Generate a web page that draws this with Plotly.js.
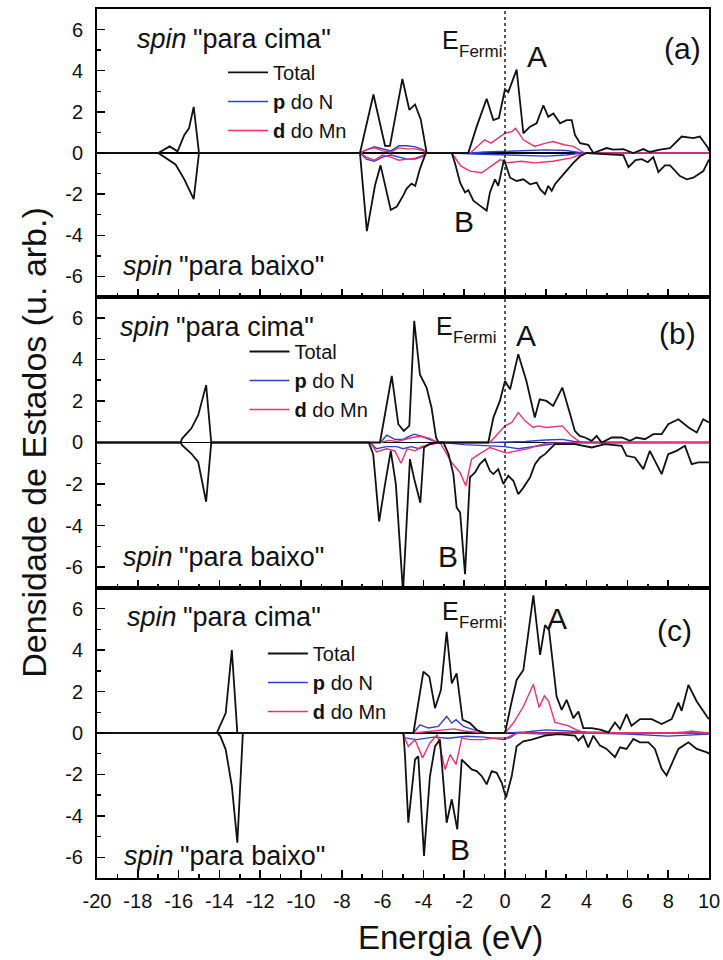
<!DOCTYPE html>
<html>
<head>
<meta charset="utf-8">
<script src="https://cdn.plot.ly/plotly-3.0.1.min.js"></script>
<style>html,body{margin:0;padding:0;background:#fff;}#chart{width:723px;height:960px;}</style>
</head>
<body>
<div id="chart"></div>
<script>
// ---------- axis ticks ----------
const energyTicks = [-20,-18,-16,-14,-12,-10,-8,-6,-4,-2,0,2,4,6,8,10];
const energyTickLabels = ['-20','-18','-16','-14','-12','-10','-8','-6','-4','-2','0','2','4','6','8','10'];
const dosTicks = [-6,-4,-2,0,2,4,6];
const dosTickLabels = ['-6','-4','-2','0','2','4','6'];
const legendNames = ['Total', '<b>p</b> do N', '<b>d</b> do Mn'];

// ---------- panel (a) ----------
const aTotUpE = [-20,-17.0,-16.44,-16.05,-15.72,-15.49,-15.26,-15.0,-7.11,-6.45,-5.88,-5.64,-5.03,-4.69,-4.41,-4.13,-3.84,-1.8,-1.39,-0.9,-0.57,-0.3,0.0,0.16,0.57,0.9,1.23,1.55,1.88,2.12,2.37,2.7,3.02,3.27,3.43,3.68,4.08,4.33,4.98,5.31,5.8,6.29,6.78,7.1,7.6,8.09,8.66,9.23,9.55,9.96,10];
const aTotUpV = [0,0,0.32,0.08,0.88,1.2,2.24,0,0,2.84,0.35,0.35,3.6,2.1,2.36,1.63,0,0,1.28,2.64,1.6,1.7,3.1,2.96,4.05,0.96,1.28,1.44,2.32,1.76,1.92,1.44,1.6,1.6,0.88,0.48,0.4,0,0.24,0.16,0.19,0,0.19,0.05,0.16,0.24,0.8,0.72,0.8,0.24,0.1];
const aTotDnE = [-20,-17.0,-16.15,-15.72,-15.26,-15.0,-7.11,-6.77,-6.37,-6.1,-5.6,-5.3,-4.98,-4.82,-4.58,-4.4,-4.17,-3.88,-2.61,-2.45,-2.2,-1.96,-1.8,-1.55,-1.23,-0.9,-0.74,-0.49,-0.33,-0.05,0.25,0.57,0.9,1.23,1.55,1.72,1.96,2.12,2.29,2.45,2.86,3.35,3.68,4.0,5.3,5.8,6.05,6.4,6.7,7.0,7.27,7.52,7.84,8.09,8.58,8.91,9.23,9.72,10];
const aTotDnV = [0,0,-0.56,-1.28,-2.24,0,0,-3.8,-1.57,-0.6,-2.77,-2.6,-2.05,-1.73,-1.49,-1.6,-0.77,0,0,-0.5,-1.44,-1.92,-1.8,-2.32,-2.56,-2.8,-1.92,-1.28,-1.6,-0.32,-1.2,-1.36,-1.28,-1.52,-1.44,-1.76,-2.0,-1.6,-1.84,-1.52,-1.04,-0.48,-0.16,0,-0.08,-0.1,-0.69,-0.35,-0.3,-0.45,-0.2,-0.93,-0.6,-0.6,-1.12,-1.28,-1.2,-0.88,-0.32];
const aPUpE = [-7.1,-6.8,-6.4,-6.0,-5.6,-5.2,-4.8,-4.4,-4.0,-3.85,-1.7,-1.0,0,1.0,2.0,3.0,3.8,10];
const aPUpV = [0,0.15,0.3,0.2,0.1,0.35,0.35,0.3,0.15,0,0,0.05,0.08,0.1,0.15,0.12,0,0];
const aPDnE = [-7.1,-6.8,-6.4,-6.0,-5.6,-5.2,-4.8,-4.4,-4.0,-3.85,-2.6,-1.5,0,1.0,2.0,3.0,3.8,10];
const aPDnV = [0,-0.3,-0.4,-0.2,-0.1,-0.2,-0.3,-0.3,-0.15,0,0,-0.05,-0.1,-0.1,-0.15,-0.1,0,0];
const aDUpE = [-7.1,-6.8,-6.4,-6.0,-5.6,-5.2,-4.8,-4.4,-4.0,-3.85,-1.7,-1.0,-0.68,0.0,0.33,0.52,0.9,1.45,2.0,2.35,2.9,3.35,3.9,10];
const aDUpV = [0,0.15,0.25,0.1,0.05,0.25,0.2,0.2,0.1,0,0,0.64,0.48,0.96,1.04,1.2,0.64,0.32,0.48,0.56,0.4,0.32,0,0];
const aDDnE = [-7.1,-6.8,-6.4,-6.0,-5.6,-5.2,-4.8,-4.4,-4.0,-3.85,-2.61,-2.16,-1.7,-1.14,-0.68,-0.23,0.11,0.79,1.45,2.35,3.25,3.9,10];
const aDDnV = [0,-0.2,-0.35,-0.1,-0.2,-0.35,-0.3,-0.25,-0.1,0,0,-0.64,-0.88,-0.96,-0.64,-0.32,-0.48,-0.4,-0.48,-0.4,-0.24,0,0];

// ---------- panel (b) ----------
const bTotUpE = [-20,-15.9,-15.83,-15.38,-15.04,-14.65,-14.4,-6.13,-5.55,-5.23,-4.96,-4.69,-4.45,-4.17,-3.84,-3.6,-3.38,-3.26,-0.82,-0.57,-0.25,0.0,0.25,0.65,1.05,1.46,1.7,2.03,2.36,2.81,3.17,3.42,3.66,3.92,4.25,4.49,4.74,5.23,5.72,6.13,6.45,6.86,7.27,7.68,8.0,8.5,9.0,9.4,9.72,10];
const bTotUpV = [0,0,0.19,0.67,1.31,2.76,0,0,3.2,0.88,0.56,0.8,5.85,3.27,2.63,1.67,0.24,0,0,1.2,2.0,2.96,2.56,4.25,2.96,1.2,2.08,2.0,1.76,2.64,1.44,0.56,0.32,0.24,0.08,0.32,0,0.24,0.24,0.08,0.24,0.16,0.4,0.4,0.88,1.12,0.72,0.48,1.12,0.96];
const bTotDnE = [-20,-15.9,-15.83,-15.38,-15.04,-14.65,-14.4,-6.68,-6.46,-6.17,-5.88,-5.6,-5.35,-5.0,-4.66,-4.45,-4.15,-3.97,-3.7,-3.3,-3.02,-2.77,-2.53,-2.37,-2.2,-1.96,-1.72,-1.47,-1.23,-0.98,-0.74,-0.57,-0.33,-0.08,0.16,0.41,0.65,0.9,1.23,1.47,1.72,1.96,2.2,2.45,3.43,4.25,4.9,5.72,5.96,6.37,6.78,7.1,7.68,8.0,8.41,8.82,9.15,9.48,10];
const bTotDnV = [0,0,-0.13,-0.53,-0.93,-2.85,0,0,-0.56,-3.8,-2.0,-0.4,-2.0,-7.2,-0.8,-1.76,-2.9,-0.24,-0.08,0,0,-0.56,-1.52,-3.13,-3.37,-6.33,-1.68,-1.44,-1.04,-0.8,-1.36,-1.52,-1.28,-2.0,-1.6,-1.84,-2.49,-2.17,-1.68,-1.04,-0.72,-0.56,-0.32,-0.08,-0.08,-0.24,-0.08,-0.16,-0.64,-0.72,-1.28,-0.4,-1.52,-0.56,-0.4,-0.16,-1.04,-0.96,-0.96];
const bPUpE = [-6.1,-5.8,-5.4,-5.0,-4.7,-4.45,-4.1,-3.8,-3.3,-0.8,0,1,2,2.8,3.4,4,10];
const bPUpV = [0,0.35,0.15,0.15,0.3,0.4,0.3,0.2,0,0,0.02,0.05,0.12,0.15,0.05,0,0];
const bPDnE = [-6.6,-6.3,-5.8,-5.3,-5.0,-4.6,-4.2,-3.8,-3.3,-3.0,-2.0,-1.0,0,0.65,1.5,2.5,3.5,10];
const bPDnV = [0,-0.3,-0.2,-0.2,-0.3,-0.2,-0.3,-0.1,0,0,-0.1,-0.15,-0.2,-0.3,-0.2,-0.05,0,0];
const bDUpE = [-6.1,-5.7,-5.3,-4.9,-4.5,-4.1,-3.7,-3.3,-0.74,0.0,0.33,0.65,0.98,1.38,1.62,2.03,2.81,3.25,3.66,10];
const bDUpV = [0,0.1,0.05,0.15,0.25,0.3,0.2,0,0,0.8,0.96,1.44,1.04,0.72,0.8,0.72,0.8,0.32,0.03,0];
const bDDnE = [-6.6,-6.3,-5.8,-5.4,-5.1,-4.8,-4.4,-4.1,-3.7,-3.19,-2.62,-2.21,-1.92,-1.64,-1.4,-0.74,-0.25,0.08,0.57,1.05,1.54,2.03,10];
const bDDnV = [0,-0.45,-0.3,-0.4,-1.0,-0.3,-0.4,-0.2,-0.1,0,-0.96,-1.44,-2.08,-0.8,-0.64,-0.24,-0.4,-0.51,-0.4,-0.32,-0.16,-0.03,0];

// ---------- panel (c) ----------
const cTotUpE = [-20,-14.13,-13.69,-13.39,-13.12,-4.49,-4.0,-3.71,-3.43,-3.14,-2.86,-2.61,-2.37,-2.08,-1.72,-1.39,-1.07,0.0,0.3,0.57,0.9,1.23,1.39,1.72,1.96,2.16,2.53,2.78,3.02,3.35,3.6,3.84,4.25,4.66,5.07,5.39,5.64,5.96,6.2,6.62,7.19,7.68,8.17,8.5,8.66,8.99,9.4,9.9,10];
const cTotUpV = [0,0,0.96,4.0,0,0,2.96,2.72,1.2,2.08,4.89,2.4,2.88,0.64,0.48,0.16,0,0,1.4,2.56,3.04,5.61,6.65,3.77,5.21,4.97,1.76,1.12,1.6,0.72,1.04,0.24,0.24,0.16,0.03,0.51,0.19,0.91,0.35,0.67,0.67,0.43,0.67,1.47,1.07,2.32,1.52,0.8,0.67];
const cTotDnE = [-20,-14.1,-13.95,-13.69,-13.39,-13.12,-12.85,-4.98,-4.9,-4.74,-4.41,-4.25,-3.97,-3.68,-3.43,-3.19,-2.86,-2.61,-2.34,-2.12,-1.88,-1.63,-1.39,-1.14,-0.9,-0.65,-0.41,-0.16,0.05,0.33,0.57,0.9,1.31,1.96,2.61,3.43,3.6,3.84,4.08,4.33,4.66,4.98,5.39,5.64,5.96,6.29,6.62,7.03,7.35,7.68,7.92,8.17,8.5,8.99,9.4,9.9,10];
const cTotDnV = [0,0,-0.16,-0.8,-2.56,-5.29,0,0,-1.12,-4.33,-1.28,-1.12,-5.93,-2.09,-0.64,-0.32,-4.33,-3.2,-4.65,-1.28,-1.52,-1.76,-1.84,-2.08,-2.48,-1.84,-1.92,-2.4,-3.12,-2.08,-0.64,-0.4,-0.32,-0.13,-0.05,-0.13,-0.37,-0.13,-0.69,-0.13,-0.61,-0.77,-1.17,-0.69,-0.77,-0.29,-0.45,-0.45,-0.77,-1.73,-2.05,-1.49,-0.77,-0.45,-0.77,-0.93,-1.0];
const cPUpE = [-4.49,-4.17,-3.76,-3.27,-2.86,-2.61,-2.4,-2.04,-1.55,-0.9,0,1,2,3,4,6,8,9,10];
const cPUpV = [0,0.4,0.24,0.32,0.8,0.48,0.64,0.32,0.16,0,0,0.05,0.15,0.1,0.05,0,0,0.05,0];
const cPDnE = [-5.0,-4.9,-4.33,-3.5,-2.8,-1.88,-1.0,-0.08,0.3,0.57,2,4,6,7.5,8,9,10];
const cPDnV = [0,-0.24,-0.32,-0.2,-0.25,-0.16,-0.2,-0.32,-0.2,0,-0.05,0,-0.05,-0.1,-0.15,-0.1,-0.05];
const cDUpE = [-4.49,-4.0,-3.5,-3.0,-2.5,-2.0,-1.5,-1.0,0.0,0.41,0.9,1.39,1.67,1.93,2.13,2.45,2.78,3.1,3.43,3.84,8.8,9.1,9.5,10];
const cDUpV = [0,0.05,0.1,0.15,0.2,0.1,0.05,0,0,0.48,1.28,2.35,1.23,1.79,1.55,0.51,0.43,0.35,0.19,0.03,0,0.1,0.05,0];
const cDDnE = [-5.0,-4.98,-4.74,-4.41,-4.04,-3.68,-3.32,-2.94,-2.69,-2.4,-2.12,-1.72,-1.07,-0.57,0.05,0.41,0.7,10];
const cDDnV = [0,-0.08,-0.64,-0.32,-1.2,-0.48,-0.08,-1.76,-1.04,-1.52,-0.24,-0.32,-0.32,-0.24,-0.24,-0.08,0,0];

// ---------- build traces ----------
const FONT = 'Liberation Sans, Arial, Helvetica, sans-serif';
const COL_TOTAL = '#111111', COL_P = '#2f3fd0', COL_D = '#f0306a';
const traces = [];
function addLine(x, y, color, width, xa, ya, name, legend, show, rank) {
  traces.push({type:'scatter', mode:'lines', x:x, y:y, xaxis:xa, yaxis:ya,
    line:{color:color, width:width, shape:'linear'}, name:name, legend:legend,
    showlegend:show, legendrank:rank, hoverinfo:'skip'});
}
const panels = [
  {xa:'x',  ya:'y',  lg:'legend',  tu:[aTotUpE,aTotUpV], td:[aTotDnE,aTotDnV], pu:[aPUpE,aPUpV], pd:[aPDnE,aPDnV], du:[aDUpE,aDUpV], dd:[aDDnE,aDDnV]},
  {xa:'x2', ya:'y2', lg:'legend2', tu:[bTotUpE,bTotUpV], td:[bTotDnE,bTotDnV], pu:[bPUpE,bPUpV], pd:[bPDnE,bPDnV], du:[bDUpE,bDUpV], dd:[bDDnE,bDDnV]},
  {xa:'x3', ya:'y3', lg:'legend3', tu:[cTotUpE,cTotUpV], td:[cTotDnE,cTotDnV], pu:[cPUpE,cPUpV], pd:[cPDnE,cPDnV], du:[cDUpE,cDUpV], dd:[cDDnE,cDDnV]}
];
panels.forEach(p => {
  addLine(p.pu[0], p.pu[1], COL_P, 1.4, p.xa, p.ya, legendNames[1], p.lg, true, 2);
  addLine(p.du[0], p.du[1], COL_D, 1.4, p.xa, p.ya, legendNames[2], p.lg, true, 3);
  addLine(p.pd[0], p.pd[1], COL_P, 1.4, p.xa, p.ya, legendNames[1], p.lg, false, 2);
  addLine(p.dd[0], p.dd[1], COL_D, 1.4, p.xa, p.ya, legendNames[2], p.lg, false, 3);
  addLine(p.td[0], p.td[1], COL_TOTAL, 1.8, p.xa, p.ya, legendNames[0], p.lg, false, 1);
  addLine(p.tu[0], p.tu[1], COL_TOTAL, 1.8, p.xa, p.ya, legendNames[0], p.lg, true, 1);
});

// ---------- axes ----------
function xAxis(anchor, labels) {
  return {anchor:anchor, range:[-20,10], tickmode:'array', tickvals:energyTicks, ticktext:energyTickLabels,
    showticklabels:labels, ticks:'inside', ticklen:8, tickwidth:1.5, tickcolor:'#000',
    showline:true, mirror:true, linecolor:'#000', linewidth:2, showgrid:false, zeroline:false,
    tickfont:{family:FONT, size:20, color:'#111'}, ticklabelstandoff:4,
    minor:{tickmode:'linear', tick0:0, dtick:1, ticks:'inside', ticklen:4, tickwidth:1.5, tickcolor:'#000', showgrid:false}};
}
function yAxis(anchor, domain) {
  return {anchor:anchor, domain:domain, range:[-7,7], tickmode:'array', tickvals:dosTicks, ticktext:dosTickLabels,
    ticks:'inside', ticklen:8, tickwidth:1.5, tickcolor:'#000', showline:true, mirror:true, linecolor:'#000', linewidth:2,
    showgrid:false, zeroline:true, zerolinecolor:'#000', zerolinewidth:1.8,
    tickfont:{family:FONT, size:20, color:'#111'}, ticklabelstandoff:8,
    minor:{tickmode:'linear', tick0:0, dtick:1, ticks:'inside', ticklen:4, tickwidth:1.5, tickcolor:'#000', showgrid:false}};
}
const yb = yAxis('x2', [0.3337, 0.6686]);
yb.title = {text:'Densidade de Estados (u. arb.)', font:{family:FONT, size:34, color:'#111'}, standoff:8};

function legendAt(x, y) {
  return {x:x, y:y, xanchor:'left', yanchor:'top', bgcolor:'rgba(0,0,0,0)', borderwidth:0,
    font:{family:FONT, size:20, color:'#111'}, tracegroupgap:0, itemwidth:40, traceorder:'normal'};
}

// ---------- annotations ----------
const anns = [];
function txt(xr, yr, x, y, text, size, xanchor, style) {
  anns.push({xref:xr, yref:yr, x:x, y:y, text:text, showarrow:false,
    font:{family:FONT, size:size, color:'#111', style:style||'normal'},
    xanchor:xanchor||'center', yanchor:'middle'});
}
// "spin" in italics followed by the quoted direction
function spinLabel(xr, yr, x, y, rest) {
  txt(xr, yr, x, y, 'spin', 27, 'left', 'italic');
  txt(xr, yr, x + 2.75, y, rest, 27, 'left');
}
// E with subscript "Fermi"
function fermiLabel(xr, yr, x, y) {
  txt(xr, yr, x, y, 'E', 25, 'left');
  txt(xr, yr, x + 0.85, y - 0.55, 'Fermi', 17, 'left');
}
// panel a
spinLabel('x','y',-18.14,5.53,'"para cima"');
spinLabel('x','y',-18.82,-5.48,'"para baixo"');
fermiLabel('x','y',-3.2,5.5);
txt('x','y',1.57,4.71,'A',30);
txt('x','y',-1.99,-3.32,'B',30);
txt('x','y',8.7,5.1,'(a)',30);
// panel b
spinLabel('x2','y2',-18.99,5.55,'"para cima"');
spinLabel('x2','y2',-18.82,-5.5,'"para baixo"');
fermiLabel('x2','y2',-3.5,5.6);
txt('x2','y2',1.05,5.17,'A',30);
txt('x2','y2',-2.77,-5.5,'B',30);
txt('x2','y2',8.46,5.26,'(b)',30);
// panel c
spinLabel('x3','y3',-18.65,5.58,'"para cima"');
spinLabel('x3','y3',-18.77,-5.96,'"para baixo"');
fermiLabel('x3','y3',-3.2,5.9);
txt('x3','y3',2.57,5.53,'A',30);
txt('x3','y3',-2.21,-5.63,'B',30);
txt('x3','y3',8.33,4.95,'(c)',30);
// x-axis title
anns.push({xref:'paper', yref:'paper', x:0.577, y:-0.069, text:'Energia (eV)', showarrow:false,
  font:{family:FONT, size:33, color:'#111'}, xanchor:'center', yanchor:'middle'});

const layout = {
  width:723, height:960,
  margin:{l:97, r:14, t:9, b:82},
  paper_bgcolor:'#fff', plot_bgcolor:'#fff',
  font:{family:FONT, color:'#111'},
  xaxis: xAxis('y', false),
  xaxis2: Object.assign(xAxis('y2', false), {matches:'x'}),
  xaxis3: Object.assign(xAxis('y3', true), {matches:'x'}),
  yaxis: yAxis('x', [0.6686, 1]),
  yaxis2: yb,
  yaxis3: yAxis('x3', [0, 0.3337]),
  legend: legendAt(0.206, 0.9494),
  legend2: legendAt(0.241, 0.6283),
  legend3: legendAt(0.271, 0.2808),
  annotations: anns,
  shapes:[{type:'line', xref:'x3', yref:'paper', x0:0, x1:0, y0:0, y1:1,
    line:{color:'#222', width:1.5, dash:'dot'}, layer:'above'}],
  showlegend:true
};

Plotly.newPlot('chart', traces, layout, {displayModeBar:false, staticPlot:true});
</script>
</body>
</html>
